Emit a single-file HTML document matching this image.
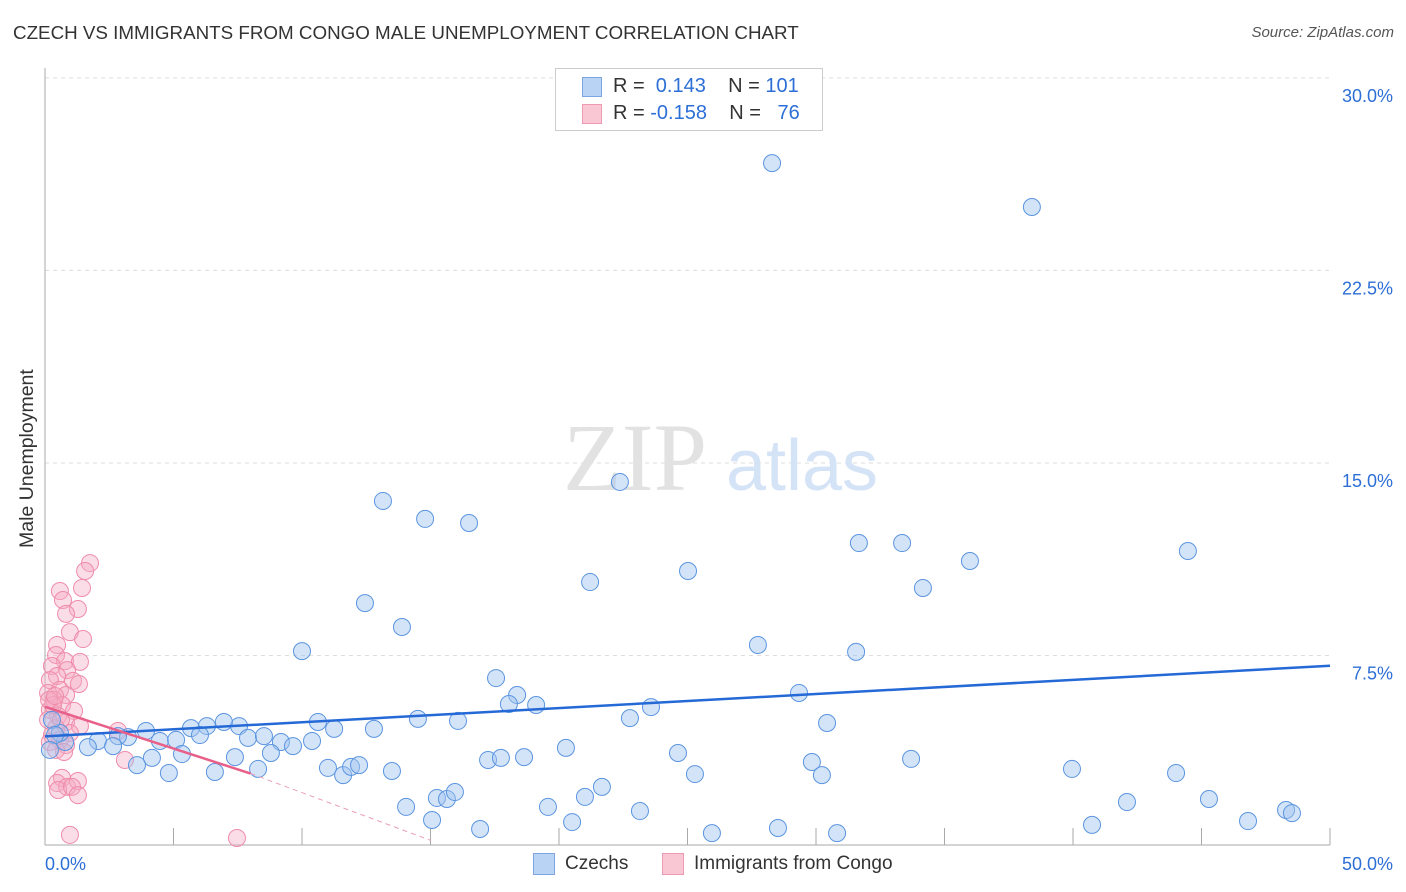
<!DOCTYPE html>
<html><head><meta charset="utf-8"><style>
body{margin:0;background:#fff;font-family:"Liberation Sans",sans-serif;}
#wrap{position:relative;width:1406px;height:892px;overflow:hidden;}
.t{position:absolute;white-space:nowrap;}
</style></head><body>
<div id="wrap">
<div class="t" style="left:13px;top:22px;font-size:18.8px;color:#333;">CZECH VS IMMIGRANTS FROM CONGO MALE UNEMPLOYMENT CORRELATION CHART</div>
<div class="t" style="right:12px;top:24px;font-size:15px;color:#555;font-style:italic;">Source: ZipAtlas.com</div>
<div class="t" style="font-size:19.5px;color:#333;transform:rotate(-90deg);transform-origin:left top;top:548px;left:16px;">Male Unemployment</div>
<svg id="svg" width="1406" height="892" style="position:absolute;left:0;top:0"></svg>
<div class="t" style="left:555px;top:68px;width:266px;height:61px;border:1px solid #ccc;background:#fff;">
 <div style="position:absolute;left:26px;top:8px;width:18px;height:18px;background:#b9d3f5;border:1px solid #7aa6e3;"></div>
 <div style="position:absolute;left:26px;top:35px;width:18px;height:18px;background:#f9c6d4;border:1px solid #ee9ab3;"></div>
 <div class="t" style="left:57px;top:6px;font-size:20px;color:#333;">R = &nbsp;<span style="color:#2d6fd6">0.143</span>&nbsp;&nbsp;&nbsp; N = <span style="color:#2d6fd6">101</span></div>
 <div class="t" style="left:57px;top:33px;font-size:20px;color:#333;">R = <span style="color:#2d6fd6">-0.158</span>&nbsp;&nbsp;&nbsp; N = &nbsp;&nbsp;<span style="color:#2d6fd6">76</span></div>
</div>
<div class="t" style="left:533px;top:853px;width:20px;height:20px;background:#b9d3f5;border:1px solid #7aa6e3;"></div>
<div class="t" style="left:565px;top:853px;font-size:19px;color:#333;">Czechs</div>
<div class="t" style="left:662px;top:853px;width:20px;height:20px;background:#f9c6d4;border:1px solid #ee9ab3;"></div>
<div class="t" style="left:694px;top:853px;font-size:19px;color:#333;">Immigrants from Congo</div>
</div>
<script>
const bluePx=[[772,163],[1032,207],[383,501],[620,482],[425,519],[469,523],[859,543],[902,543],[1188,551],[970,561],[590,582],[688,571],[923,588],[365,603],[402,627],[302,651],[758,645],[856,652],[496,678],[517,695],[509,704],[536,705],[799,693],[827,723],[630,718],[651,707],[418,719],[458,721],[318,722],[334,729],[374,729],[239,726],[224,722],[207,726],[191,728],[146,731],[128,737],[118,736],[98,741],[88,747],[113,746],[65,742],[60,733],[248,738],[264,736],[281,742],[293,746],[312,741],[160,741],[176,740],[200,735],[182,754],[152,758],[137,765],[169,773],[215,772],[235,757],[258,769],[271,753],[328,768],[343,775],[351,767],[359,765],[392,771],[488,760],[501,758],[524,757],[566,748],[678,753],[695,774],[812,762],[822,775],[911,759],[1072,769],[1176,773],[602,787],[585,797],[548,807],[406,807],[437,798],[447,799],[455,792],[640,811],[1127,802],[1209,799],[1286,810],[1292,813],[1248,821],[432,820],[480,829],[572,822],[712,833],[778,828],[837,833],[1092,825],[52,720],[55,735],[50,750]];
const pinkPx=[[90,563],[85,571],[82,588],[60,591],[63,600],[78,609],[66,614],[70,632],[83,639],[57,645],[56,655],[65,661],[80,662],[52,666],[67,670],[57,676],[73,681],[50,680],[79,684],[60,690],[48,693],[66,695],[54,700],[62,705],[50,710],[74,711],[58,716],[48,720],[66,722],[80,726],[56,728],[52,735],[70,733],[60,740],[50,742],[66,745],[56,750],[64,752],[118,731],[125,760],[62,778],[57,783],[67,787],[78,781],[58,790],[72,787],[78,795],[70,835],[237,838],[53,705],[49,700],[61,720],[55,696]];
const czechX=bluePx.map(p=>+((p[0]-45)/25.7).toFixed(2));
const czechY=bluePx.map(p=>+((848-p[1])/25.67).toFixed(2));
const congoX=pinkPx.map(p=>+((p[0]-45)/25.7).toFixed(2));
const congoY=pinkPx.map(p=>+((848-p[1])/25.67).toFixed(2));
const yTicks=[7.5,15,22.5,30];
const yTickLabels=["7.5%","15.0%","22.5%","30.0%"];
const czechTrend=[[0,4.35],[50,7.1]];
const congoTrend=[[0,5.5],[8,2.9]];
const congoDash=[[8,2.9],[15,0.3]];

const X=v=>45+v*25.7, Y=v=>848-v*25.67;
const svg=document.getElementById('svg');const NS='http://www.w3.org/2000/svg';
function mk(t,a){const e=document.createElementNS(NS,t);for(const k in a)e.setAttribute(k,a[k]);svg.appendChild(e);return e;}
yTicks.forEach((v,i)=>{const g=mk('line',{x1:45,x2:1330,y1:Y(v),y2:Y(v),stroke:'#ddd','stroke-dasharray':'4,4'});


const t=mk('text',{x:1393,y:Y(v)+24,'text-anchor':'end','font-size':18,fill:'#2d6fd6','font-family':'Liberation Sans'});t.textContent=yTickLabels[i];

});
const ax=mk('line',{x1:45,x2:45,y1:68,y2:845,stroke:'#aaa'});


const bx=mk('line',{x1:45,x2:1330,y1:845,y2:845,stroke:'#aaa'});


for(let i=0;i<=10;i++){const l=mk('line',{x1:X(i*5),x2:X(i*5),y1:828,y2:845,stroke:'#aaa'});

}
[['0.0%',45,'start'],['50.0%',1393,'end']].forEach(a=>{const t=mk('text',{x:a[1],y:870,'text-anchor':a[2],'font-size':18,fill:'#2d6fd6','font-family':'Liberation Sans'});t.textContent=a[0];

});
const w1=mk('text',{x:635,y:490,'text-anchor':'middle','font-size':96,fill:'#e2e2e2','font-family':'Liberation Serif'});w1.textContent='ZIP';


const w2=mk('text',{x:802,y:490,'text-anchor':'middle','font-size':72,fill:'#d5e3f6','font-family':'Liberation Sans'});w2.textContent='atlas';


congoX.forEach((x,i)=>{const c=mk('circle',{cx:X(x),cy:Y(congoY[i]),r:8.5,fill:'rgba(246,170,194,0.4)',stroke:'#ef8cab','stroke-width':1});

});
czechX.forEach((x,i)=>{const c=mk('circle',{cx:X(x),cy:Y(czechY[i]),r:8.5,fill:'rgba(160,196,240,0.45)',stroke:'#5b95e0','stroke-width':1});

});
const tl=mk('line',{x1:X(czechTrend[0][0]),y1:Y(czechTrend[0][1]),x2:X(czechTrend[1][0]),y2:Y(czechTrend[1][1]),stroke:'#2469d6','stroke-width':2.5});


const pl=mk('line',{x1:X(congoTrend[0][0]),y1:Y(congoTrend[0][1]),x2:X(congoTrend[1][0]),y2:Y(congoTrend[1][1]),stroke:'#e8608a','stroke-width':2.5});


const pd=mk('line',{x1:X(congoDash[0][0]),y1:Y(congoDash[0][1]),x2:X(congoDash[1][0]),y2:Y(congoDash[1][1]),stroke:'#eaa0b8','stroke-width':1,'stroke-dasharray':'5,4'});


</script>
</body></html>
